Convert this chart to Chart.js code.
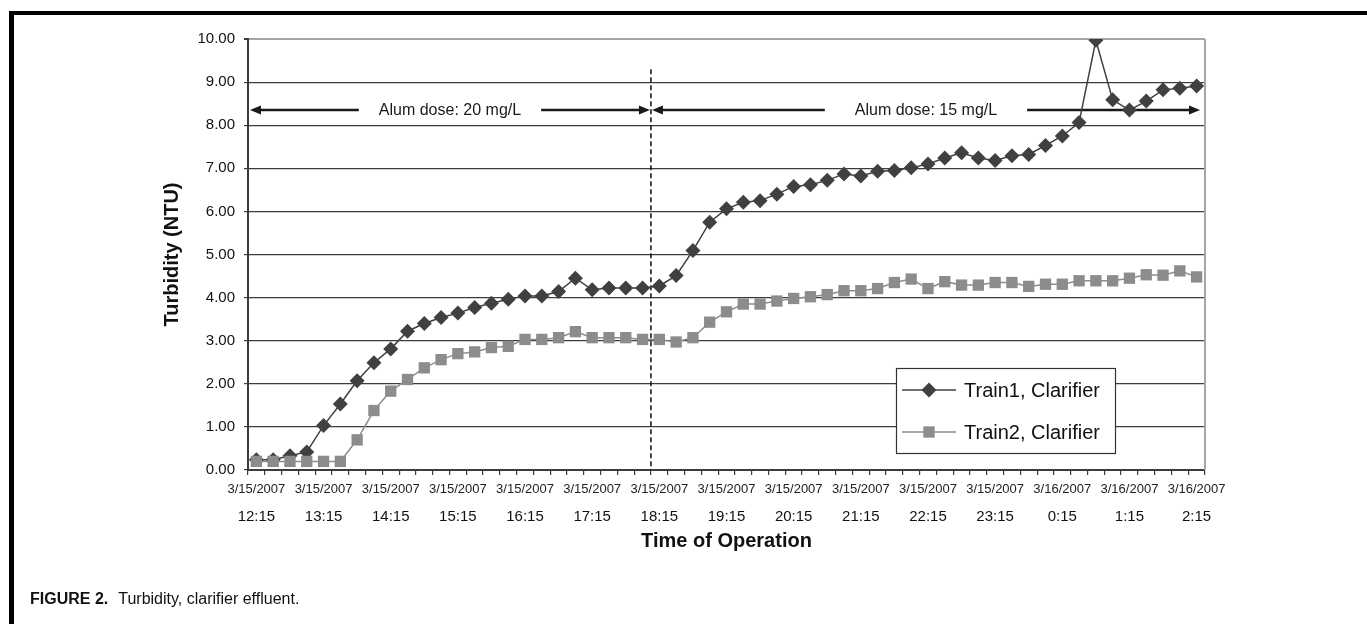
<!DOCTYPE html>
<html lang="en">
<head>
<meta charset="UTF-8">
<title>Turbidity, clarifier effluent</title>
<script src="https://cdn.jsdelivr.net/npm/chart.js"></script>
<style>
    body { margin: 0; background: #fff; width: 1367px; height: 624px; overflow: hidden; position: relative;
           font-family: "Liberation Sans", Arial, sans-serif; }
    #frame { position: absolute; left: 9px; top: 11px; right: -20px; bottom: -20px;
             border-top: 4px solid #000; border-left: 5px solid #000; }
    #myChart { position: absolute; left: 0; top: 0; }
    #caption { position: absolute; left: 30px; top: 590px; font-size: 16px; line-height: 18px; color: #111; white-space: nowrap; }
    #caption span { margin-left: 10px; }
</style>
</head>
<body>
<div id="frame"></div>
<canvas id="myChart" width="1367" height="624"></canvas>
<div id="caption"><b>FIGURE 2.</b><span>Turbidity, clarifier effluent.</span></div>

<script>
    // readings every 15 minutes
    const categories = [
        '12:15', '12:30', '12:45', '13:00', '13:15', '13:30', '13:45', '14:00',
        '14:15', '14:30', '14:45', '15:00', '15:15', '15:30', '15:45', '16:00',
        '16:15', '16:30', '16:45', '17:00', '17:15', '17:30', '17:45', '18:00',
        '18:15', '18:30', '18:45', '19:00', '19:15', '19:30', '19:45', '20:00',
        '20:15', '20:30', '20:45', '21:00', '21:15', '21:30', '21:45', '22:00',
        '22:15', '22:30', '22:45', '23:00', '23:15', '23:30', '23:45', '0:00',
        '0:15', '0:30', '0:45', '1:00', '1:15', '1:30', '1:45', '2:00', '2:15'
    ];

    const train1 = [
        0.24, 0.24, 0.33, 0.42, 1.03, 1.53, 2.07, 2.49, 2.81, 3.22, 3.40, 3.54, 3.64, 3.77, 3.87, 3.96,
        4.04, 4.04, 4.14, 4.45, 4.18, 4.22, 4.22, 4.22, 4.27, 4.51, 5.09, 5.75, 6.06, 6.21, 6.25, 6.40,
        6.58, 6.62, 6.72, 6.87, 6.82, 6.93, 6.95, 7.01, 7.10, 7.24, 7.36, 7.24, 7.18, 7.29, 7.32, 7.53,
        7.75, 8.06, 9.97, 8.59, 8.35, 8.56, 8.82, 8.86, 8.91
    ];

    const train2 = [
        0.20, 0.20, 0.20, 0.20, 0.20, 0.20, 0.70, 1.38, 1.83, 2.10, 2.37, 2.56, 2.70, 2.74, 2.84, 2.87,
        3.03, 3.03, 3.07, 3.21, 3.07, 3.07, 3.07, 3.03, 3.03, 2.97, 3.07, 3.43, 3.67, 3.85, 3.85, 3.92,
        3.98, 4.02, 4.07, 4.16, 4.16, 4.21, 4.35, 4.43, 4.21, 4.37, 4.29, 4.29, 4.35, 4.35, 4.26, 4.31,
        4.31, 4.39, 4.39, 4.39, 4.45, 4.53, 4.52, 4.62, 4.48
    ];

    const seriesNames = ['Train1, Clarifier', 'Train2, Clarifier'];

    const tickDates = [
        '3/15/2007', '3/15/2007', '3/15/2007', '3/15/2007', '3/15/2007', '3/15/2007', '3/15/2007', '3/15/2007',
        '3/15/2007', '3/15/2007', '3/15/2007', '3/15/2007', '3/16/2007', '3/16/2007', '3/16/2007'
    ];
    const tickTimes = [
        '12:15', '13:15', '14:15', '15:15', '16:15', '17:15', '18:15', '19:15',
        '20:15', '21:15', '22:15', '23:15', '0:15', '1:15', '2:15'
    ];

    const doseLabels = ['Alum dose: 20 mg/L', 'Alum dose: 15 mg/L'];
    const doseChangeIndex = 24;   // first reading at 15 mg/L
    const arrowLevel = 8.35;
    const dashTop = 9.3;

    Chart.defaults.font.family = '"Liberation Sans", Arial, sans-serif';

    function arrowHead(ctx, tipX, y, dir) {
        ctx.beginPath();
        ctx.moveTo(tipX, y);
        ctx.lineTo(tipX - dir * 11, y - 4.5);
        ctx.lineTo(tipX - dir * 11, y + 4.5);
        ctx.closePath();
        ctx.fill();
    }

    function doseSpan(ctx, x1, x2, y, text, gap) {
        const w = ctx.measureText(text).width;
        const cx = (x1 + x2) / 2;
        ctx.fillText(text, cx, y);
        ctx.beginPath();
        ctx.moveTo(x1 + 6, y);
        ctx.lineTo(cx - w / 2 - gap, y);
        ctx.moveTo(cx + w / 2 + gap, y);
        ctx.lineTo(x2 - 6, y);
        ctx.stroke();
        arrowHead(ctx, x1, y, -1);
        arrowHead(ctx, x2, y, 1);
    }

    const annotations = {
        id: 'annotations',
        beforeDatasetsDraw(chart) {
            const {ctx, chartArea} = chart;
            const xs = chart.scales.x, ys = chart.scales.y;
            const dashX = (xs.getPixelForValue(doseChangeIndex - 1) + xs.getPixelForValue(doseChangeIndex)) / 2;
            ctx.save();
            // plot area right edge
            ctx.strokeStyle = '#a6a6a6';
            ctx.lineWidth = 2;
            ctx.beginPath();
            ctx.moveTo(chartArea.right, chartArea.top);
            ctx.lineTo(chartArea.right, chartArea.bottom);
            ctx.stroke();
            // dose change line
            ctx.strokeStyle = '#111';
            ctx.lineWidth = 1.5;
            ctx.setLineDash([5, 3]);
            ctx.beginPath();
            ctx.moveTo(dashX, ys.getPixelForValue(dashTop));
            ctx.lineTo(dashX, chartArea.bottom);
            ctx.stroke();
            ctx.setLineDash([]);
            // dose arrows
            const y = ys.getPixelForValue(arrowLevel);
            ctx.fillStyle = '#1a1a1a';
            ctx.strokeStyle = '#1a1a1a';
            ctx.lineWidth = 2.5;
            ctx.font = '16px "Liberation Sans", Arial, sans-serif';
            ctx.textAlign = 'center';
            ctx.textBaseline = 'middle';
            doseSpan(ctx, chartArea.left + 2, dashX - 1, y, doseLabels[0], 20);
            doseSpan(ctx, dashX + 1, chartArea.right - 5, y, doseLabels[1], 30);
            ctx.restore();
        },
        afterDraw(chart) {
            const {ctx, chartArea} = chart;
            const x0 = chartArea.right - 309, y0 = chartArea.top + 329;
            ctx.save();
            ctx.fillStyle = '#fff';
            ctx.fillRect(x0, y0, 219, 85);
            ctx.strokeStyle = '#333';
            ctx.lineWidth = 1.2;
            ctx.strokeRect(x0 + 0.5, y0 + 0.5, 219, 85);
            chart.data.datasets.forEach((ds, i) => {
                const y = y0 + 22 + i * 42;
                const mx = x0 + 33;
                ctx.strokeStyle = ds.borderColor;
                ctx.lineWidth = ds.borderWidth;
                ctx.beginPath();
                ctx.moveTo(x0 + 6, y);
                ctx.lineTo(x0 + 60, y);
                ctx.stroke();
                ctx.fillStyle = ds.backgroundColor;
                ctx.beginPath();
                if (ds.pointStyle === 'rectRot') {
                    const r = ds.pointRadius;
                    ctx.moveTo(mx - r, y);
                    ctx.lineTo(mx, y - r);
                    ctx.lineTo(mx + r, y);
                    ctx.lineTo(mx, y + r);
                    ctx.closePath();
                } else {
                    const h = ds.pointRadius * Math.SQRT1_2;
                    ctx.rect(mx - h, y - h, 2 * h, 2 * h);
                }
                ctx.fill();
                ctx.fillStyle = '#111';
                ctx.font = '20px "Liberation Sans", Arial, sans-serif';
                ctx.textAlign = 'left';
                ctx.textBaseline = 'middle';
                ctx.fillText(seriesNames[i], x0 + 68, y + 1);
            });
            ctx.restore();
        }
    };

    const ctx = document.getElementById('myChart').getContext('2d');

    new Chart(ctx, {
        type: 'line',
        data: {
            labels: categories,
            datasets: [{
                label: seriesNames[0],
                data: train1,
                borderColor: '#404040',
                backgroundColor: '#404040',
                borderWidth: 1.5,
                pointStyle: 'rectRot',
                pointRadius: 7.5,
                pointBorderWidth: 0,
                tension: 0,
                order: 1
            }, {
                label: seriesNames[1],
                data: train2,
                borderColor: '#8c8c8c',
                backgroundColor: '#8c8c8c',
                borderWidth: 1.5,
                pointStyle: 'rect',
                pointRadius: 8,
                pointBorderWidth: 0,
                tension: 0,
                order: 0
            }]
        },
        options: {
            responsive: false,
            animation: false,
            layout: { padding: { left: 156, right: 162, top: 39, bottom: 67 } },
            plugins: {
                legend: { display: false },
                tooltip: { enabled: false }
            },
            scales: {
                x: {
                    type: 'category',
                    position: 'bottom',
                    offset: true,
                    weight: 0,
                    grid: { offset: true, drawOnChartArea: false, tickLength: 5, tickColor: '#3c3c3c', lineWidth: 1.2 },
                    border: { color: '#3c3c3c', width: 2 },
                    ticks: {
                        autoSkip: false, maxRotation: 0, minRotation: 0, padding: 7,
                        font: { size: 13 }, color: '#222',
                        callback: (v, i) => i % 4 === 0 ? tickDates[i / 4] : ''
                    },
                    afterFit(scale) { scale.height = 28; }
                },
                x2: {
                    type: 'category',
                    labels: categories,
                    position: 'bottom',
                    offset: true,
                    weight: 1,
                    grid: { display: false, drawTicks: false },
                    border: { display: false },
                    ticks: {
                        autoSkip: false, maxRotation: 0, minRotation: 0, padding: 10,
                        font: { size: 15 }, color: '#111',
                        callback: (v, i) => i % 4 === 0 ? tickTimes[i / 4] : ''
                    },
                    title: {
                        display: true, text: 'Time of Operation', color: '#111',
                        font: { size: 20, weight: 'bold' }, padding: { top: 4, bottom: 4 }
                    },
                    afterFit(scale) { scale.height = 59; }
                },
                y: {
                    min: 0,
                    max: 10,
                    grid: {
                        color: c => c.tick.value === 10 ? '#a6a6a6' : '#3c3c3c',
                        lineWidth: c => c.tick.value === 10 ? 2 : 1.2,
                        tickLength: 4,
                        tickColor: '#3c3c3c'
                    },
                    border: { color: '#3c3c3c', width: 2 },
                    ticks: {
                        stepSize: 1, padding: 9, color: '#111', font: { size: 15 },
                        callback: v => v.toFixed(2)
                    },
                    title: {
                        display: true, text: 'Turbidity (NTU)', color: '#111',
                        font: { size: 20, weight: 'bold' }, padding: { top: 4, bottom: 4 }
                    },
                    afterFit(scale) { scale.width = 92; }
                }
            }
        },
        plugins: [annotations]
    });
</script>
</body>
</html>
